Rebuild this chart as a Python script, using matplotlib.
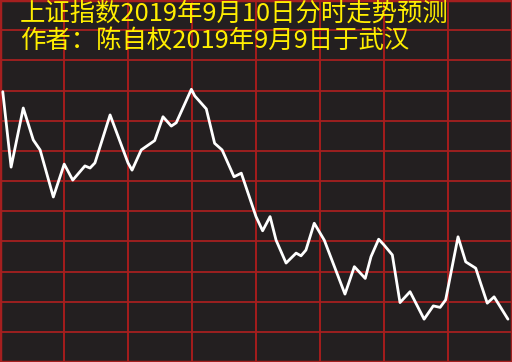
import matplotlib
matplotlib.use("Agg")
import matplotlib.pyplot as plt
from matplotlib.ticker import MultipleLocator

plt.rcParams['font.family'] = ['Noto Sans CJK SC', 'DejaVu Sans']

# forecast curve: trading minute (0-240) and level in grid rows (0-12)
minutes = [1.3, 5.2, 10.9, 15.6, 18.8, 25.0, 30.1, 34.1, 39.8, 42.2, 44.5,
           51.6, 60.0, 61.9, 66.2, 72.5, 76.4, 80.3, 82.6, 89.7, 91.3, 96.7,
           100.6, 104.1, 109.7, 113.1, 120.0, 123.1, 126.6, 129.4, 134.1,
           138.8, 141.1, 143.4, 147.3, 152.0, 161.7, 166.1, 171.2, 173.9,
           177.5, 180.0, 183.9, 187.5, 192.2, 198.8, 203.1, 206.3, 208.9,
           214.7, 218.3, 223.0, 225.3, 228.4, 231.6, 238.1]
levels = [8.96, 6.46, 8.42, 7.36, 7.03, 5.47, 6.56, 6.03, 6.50, 6.43, 6.60,
          8.19, 6.60, 6.36, 7.03, 7.34, 8.13, 7.82, 7.93, 9.04, 8.82, 8.39,
          7.25, 7.03, 6.14, 6.26, 4.82, 4.35, 4.82, 4.04, 3.28,
          3.61, 3.52, 3.71, 4.60, 4.04, 2.25, 3.16, 2.77, 3.49,
          4.07, 3.88, 3.55, 1.97, 2.33, 1.42, 1.86, 1.81, 2.06,
          4.15, 3.32, 3.11, 2.61, 1.95, 2.16, 1.42]

title1 = "上证指数2019年9月10日分时走势预测"
title2 = "作者：陈自权2019年9月9日于武汉"

bg = "#231f20"
fig = plt.figure(figsize=(5.12, 3.62), dpi=100)
fig.patch.set_facecolor(bg)
ax = fig.add_axes([0, 0, 1, 1])
ax.set_facecolor(bg)

ax.set_xlim(0, 240)
ax.set_ylim(0, 12)
ax.xaxis.set_major_locator(MultipleLocator(30))
ax.yaxis.set_major_locator(MultipleLocator(1))
ax.tick_params(length=0, labelbottom=False, labelleft=False)

# red grid, vertical a bit brighter than horizontal
ax.grid(axis='x', color="#c81c1c", linewidth=1.1, zorder=1)
ax.grid(axis='y', color="#a51f1f", linewidth=1.3, zorder=1)
for s in ax.spines.values():
    s.set_color("#a51f1f")
    s.set_linewidth(2.5)

ax.plot(minutes, levels, color="white", linewidth=2.0,
        solid_joinstyle='round', solid_capstyle='round', zorder=3)

fig.text(20 / 512, 1 - 14 / 362, title1, color="#ffee00", fontsize=18.3,
         va='center', ha='left')
fig.text(20 / 512, 1 - 41 / 362, title2, color="#ffee00", fontsize=18.3,
         va='center', ha='left')

fig.savefig("out.png", dpi=100, facecolor=bg)
